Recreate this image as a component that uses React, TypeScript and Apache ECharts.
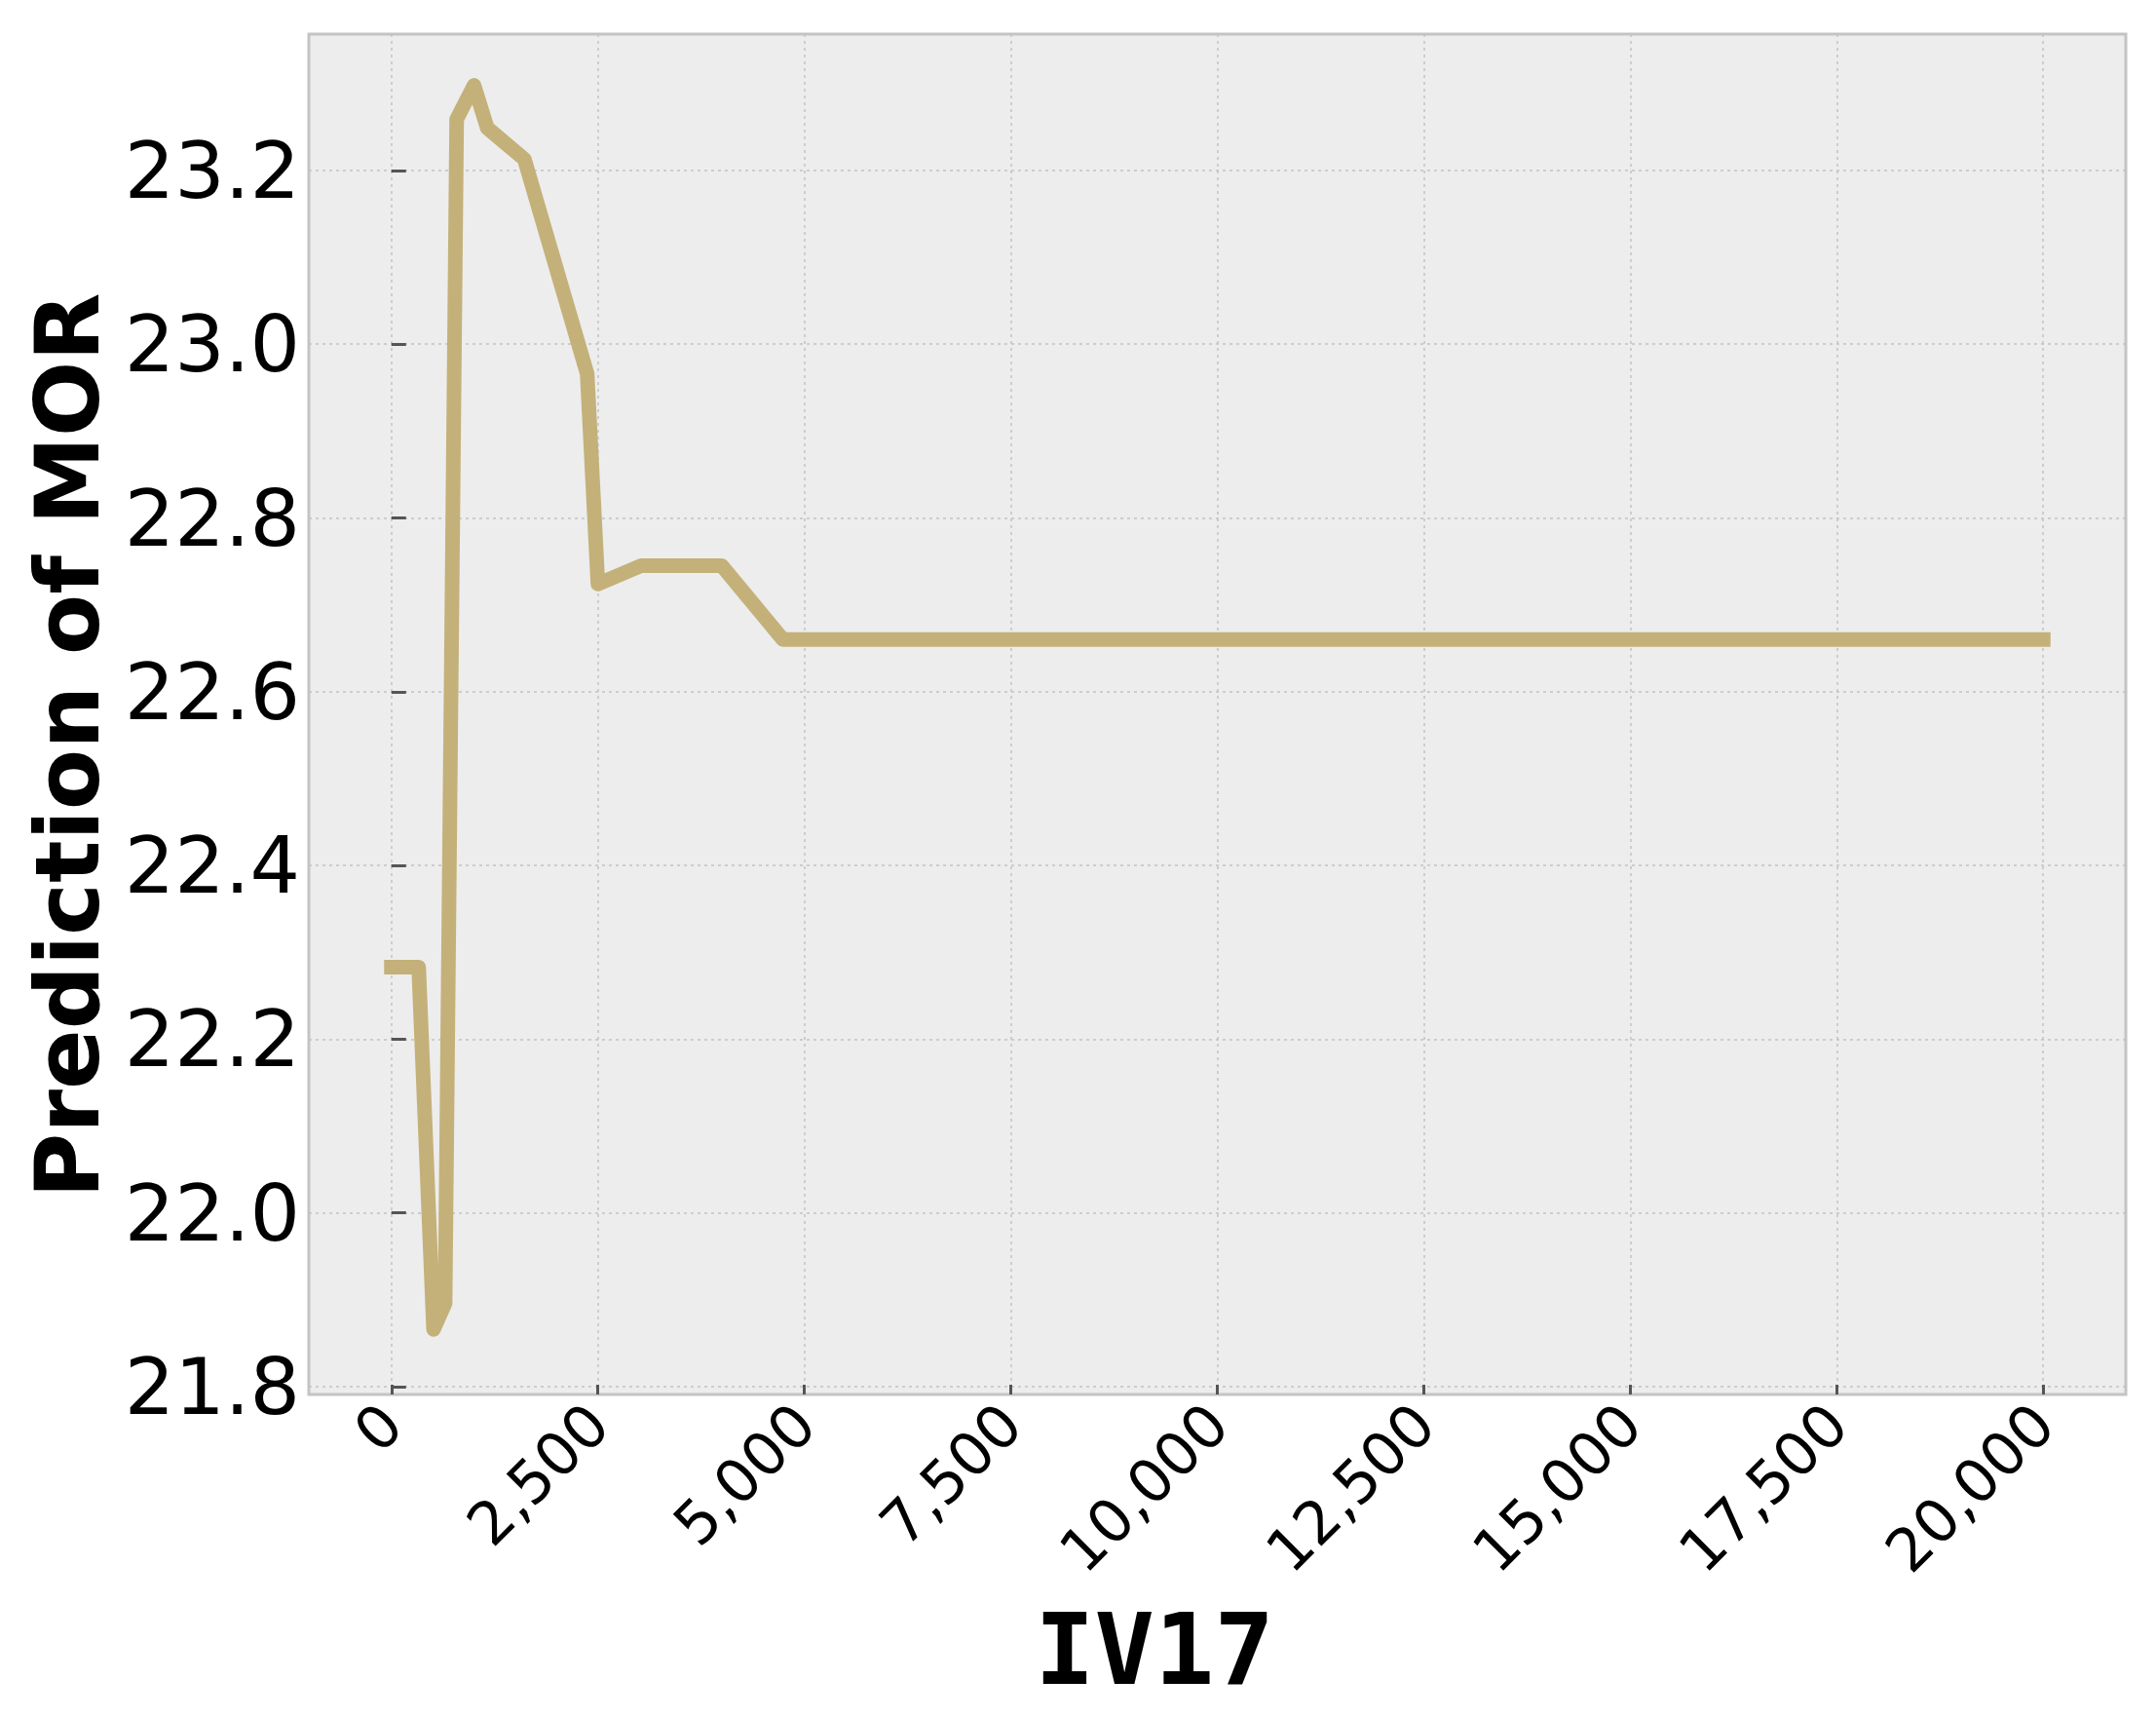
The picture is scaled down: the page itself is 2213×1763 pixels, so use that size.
import React, { useEffect, useRef } from "react";
import * as echarts from "echarts";

// IV17 values along the curve
const ivValues: number[] = [0, 330, 510, 650, 790, 1000, 1160, 1610, 2370, 2500, 3020, 4000, 4740, 20000];
// Predicted MOR at each IV17 value
const morPrediction: number[] = [22.283, 22.283, 21.866, 21.896, 23.259, 23.298, 23.249, 23.213, 22.966, 22.724, 22.745, 22.745, 22.66, 22.66];

const xTicks: number[] = [0, 2500, 5000, 7500, 10000, 12500, 15000, 17500, 20000];
const yTicks: number[] = [21.8, 22.0, 22.2, 22.4, 22.6, 22.8, 23.0, 23.2];

const xTitle = "IV17";
const yTitle = "Prediction of MOR";

export default function App() {
  const ref = useRef<HTMLDivElement>(null);

  useEffect(() => {
    if (!ref.current) return;
    const chart = echarts.init(ref.current, undefined, { renderer: "svg" });
    const seriesData = ivValues.map((x, i) => [x, morPrediction[i]]);
    const gridLine = { show: true, lineStyle: { color: "#c2c2c2", width: 1.5, type: [3, 4] as any } };
    chart.setOption({
      animation: false,
      backgroundColor: "#ffffff",
      grid: {
        left: 317,
        top: 35,
        right: 31,
        bottom: 332,
        show: true,
        backgroundColor: "#ededed",
        borderColor: "#c4c4c4",
        borderWidth: 3,
      },
      xAxis: {
        type: "value",
        min: -1000,
        max: 21000,
        axisLine: { show: false },
        axisTick: {
          show: true,
          inside: true,
          length: 10,
          customValues: xTicks,
          lineStyle: { color: "#555555", width: 3 },
        },
        axisLabel: {
          show: true,
          customValues: xTicks,
          rotate: 45,
          margin: 20,
          fontSize: 61,
          fontFamily: "DejaVu Sans",
          color: "#000000",
          formatter: (v: number) => Math.round(v).toLocaleString("en-US"),
        },
        splitLine: gridLine,
      },
      yAxis: {
        type: "value",
        min: 21.791,
        max: 23.357,
        axisLine: { show: false },
        axisTick: {
          show: true,
          inside: true,
          length: 15,
          customValues: yTicks,
          lineStyle: { color: "#555555", width: 3 },
        },
        axisLabel: {
          show: true,
          customValues: yTicks,
          margin: 9,
          fontSize: 81,
          fontFamily: "DejaVu Sans",
          color: "#000000",
          formatter: (v: number) => v.toFixed(1),
        },
        splitLine: gridLine,
      },
      graphic: [
        {
          type: "text",
          x: 69,
          y: 765,
          rotation: Math.PI / 2,
          style: {
            text: yTitle,
            fontSize: 91,
            fontWeight: "bold",
            fontFamily: "DejaVu Sans",
            fill: "#000000",
            align: "center",
            verticalAlign: "middle",
          },
        },
        {
          type: "text",
          x: 1185,
          y: 1692,
          style: {
            text: xTitle,
            fontSize: 102,
            fontWeight: "bold",
            fontFamily: "DejaVu Sans Mono",
            fill: "#000000",
            align: "center",
            verticalAlign: "middle",
          },
        },
      ],
      series: [
        {
          type: "line",
          data: seriesData,
          showSymbol: false,
          symbol: "none",
          lineStyle: { color: "#c4b17a", width: 15, cap: "square", join: "round" },
        },
      ],
    });
    return () => chart.dispose();
  }, []);

  return (
    <div
      ref={ref}
      style={{ position: "absolute", left: 0, top: 0, width: 2213, height: 1763 }}
    />
  );
}
